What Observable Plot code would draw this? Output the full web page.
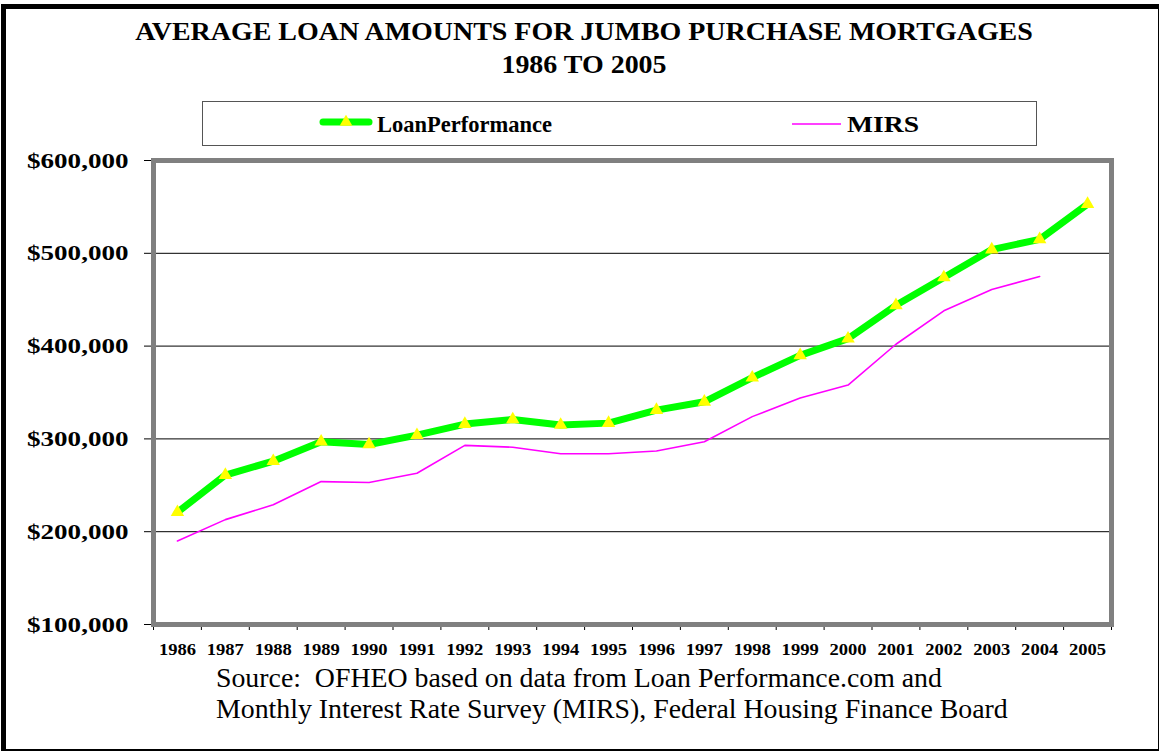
<!DOCTYPE html>
<html>
<head>
<meta charset="utf-8">
<script src="https://cdn.jsdelivr.net/npm/d3@7"></script>
<script src="https://cdn.jsdelivr.net/npm/@observablehq/plot@0.6"></script>
<style>
  html, body { margin: 0; padding: 0; background: #fff; }
  #wrap { position: relative; width: 1159px; height: 751px; overflow: hidden; font-family: "Liberation Serif", "Times New Roman", serif; }
  #border { position: absolute; left: 1px; top: 4px; width: 1162px; height: 750px; box-sizing: border-box; border: 5px solid #000; }
  #chart { position: absolute; left: 0; top: 0; }
  .title { position: absolute; left: 9px; width: 1150px; text-align: center; font-weight: bold; font-size: 26px; line-height: 1; color: #000; white-space: nowrap; transform: scaleX(1.075); transform-origin: 575px 0; }
  #legend { position: absolute; left: 202px; top: 101px; width: 835px; height: 45px; box-sizing: border-box; border: 1.5px solid #555; background: #fff; }
  .lg { position: absolute; font-weight: bold; white-space: nowrap; line-height: 1; transform-origin: 0 0; }
  .src { position: absolute; left: 216px; font-size: 27px; line-height: 1; white-space: nowrap; color: #000; transform: scaleX(1.03); transform-origin: 0 0; }
</style>
</head>
<body>
<div id="wrap">
  <div id="chart"></div>
  <div id="border"></div>
  <div class="title" style="top:19px;">AVERAGE LOAN AMOUNTS FOR JUMBO PURCHASE MORTGAGES</div>
  <div class="title" style="top:51.5px;">1986 TO 2005</div>
  <div id="legend"></div>
  <div class="src" style="top:664.5px;">Source:&nbsp; OFHEO based on data from Loan Performance.com and</div>
  <div class="src" style="top:695.5px;">Monthly Interest Rate Survey (MIRS), Federal Housing Finance Board</div>
</div>
<script>
const years = [1986,1987,1988,1989,1990,1991,1992,1993,1994,1995,1996,1997,1998,1999,2000,2001,2002,2003,2004,2005];
const loanPerformance = [221000,261000,276000,297000,294000,304000,316000,321000,315000,317000,331000,340000,366000,390000,408000,444000,474000,504000,515000,553000];
const mirs = [190000,213000,229000,254000,253000,263000,293000,291000,284000,284000,287000,297000,324000,344000,358000,402000,438000,461000,475000,null];
const yTicks = [100000,200000,300000,400000,500000,600000];
const seriesNames = ["LoanPerformance", "MIRS"];

const lpData = years.map((y, i) => ({year: y, value: loanPerformance[i]}));
const mirsData = years.map((y, i) => ({year: y, value: mirs[i]})).filter(d => d.value != null);
const boundaries = years.map(y => y - 0.5).concat([years[years.length - 1] + 0.5]);

const chart = Plot.plot({
  width: 1159,
  height: 751,
  marginLeft: 153,
  marginRight: 48,
  marginTop: 160,
  marginBottom: 127,
  style: {background: "transparent", fontFamily: "Liberation Serif, Times New Roman, serif", color: "#000"},
  x: {type: "linear", domain: [years[0] - 0.5, years[years.length - 1] + 0.5]},
  y: {domain: [100000, 600000]},
  marks: [
    Plot.ruleY(yTicks, {stroke: "#000", strokeWidth: 1}),
    Plot.axisY({ticks: yTicks, tickSize: 9, tickPadding: 16, fontSize: 22, fontWeight: "bold",
      tickFormat: d => "$" + d3.format(",")(d), label: null, stroke: "#000"}),
    Plot.axisX({ticks: boundaries, tickSize: 6, tickFormat: () => "", label: null}),
    Plot.axisX({ticks: years, tickSize: 0, tickPadding: 19.5, fontSize: 16, fontWeight: "bold",
      tickFormat: d => String(d), label: null}),
    Plot.line(mirsData, {x: "year", y: "value", stroke: "#ff00ff", strokeWidth: 1.6}),
    Plot.line(lpData, {x: "year", y: "value", stroke: "#00ff00", strokeWidth: 7}),
    Plot.dot(lpData, {x: "year", y: "value", symbol: "triangle", r: 5, fill: "#ffff00", stroke: "none"}),
    Plot.frame({stroke: "#808080", strokeWidth: 5})
  ]
});
document.getElementById("chart").appendChild(chart);

const ns = "http://www.w3.org/2000/svg";

// horizontally stretch axis tick labels (the reference type is wide), keeping their anchor point fixed
function stretch(label, sx, anchor) {
  const svgRect = chart.getBoundingClientRect();
  chart.querySelectorAll(`g[aria-label="${label}"] text`).forEach(t => {
    const r = t.getBoundingClientRect();
    if (!r.width) return;
    const parent = t.parentNode;
    const m = parent.getCTM();
    const px = anchor === "end" ? r.right : (r.left + r.right) / 2;
    const cx = (px - svgRect.left - (m ? m.e : 0)) / (m ? m.a : 1);
    const g = document.createElementNS(ns, "g");
    g.setAttribute("transform", `translate(${cx},0) scale(${sx},1) translate(${-cx},0)`);
    parent.insertBefore(g, t);
    g.appendChild(t);
  });
}
stretch("y-axis tick label", 1.23, "end");
stretch("x-axis tick label", 1.16, "middle");

// legend
const legend = document.getElementById("legend");
function sample(left, top, color, width, tri) {
  const s = document.createElementNS(ns, "svg");
  s.setAttribute("width", 54); s.setAttribute("height", 14);
  s.style.position = "absolute"; s.style.left = left + "px"; s.style.top = top + "px";
  const l = document.createElementNS(ns, "line");
  l.setAttribute("x1", tri ? 4 : 2); l.setAttribute("x2", tri ? 50 : 51); l.setAttribute("y1", 7); l.setAttribute("y2", 7);
  l.setAttribute("stroke", color); l.setAttribute("stroke-width", width); l.setAttribute("stroke-linecap", tri ? "round" : "butt");
  s.appendChild(l);
  if (tri) {
    const p = document.createElementNS(ns, "path");
    p.setAttribute("d", d3.symbol(d3.symbolTriangle, 70)());
    p.setAttribute("transform", "translate(27,7)");
    p.setAttribute("fill", "#ffff00");
    s.appendChild(p);
  }
  legend.appendChild(s);
}
sample(116, 12.5, "#00ff00", 7, true);
sample(587, 15, "#ff00ff", 1.6, false);
const t1 = document.createElement("div");
t1.className = "lg"; t1.textContent = seriesNames[0];
t1.style.left = "174px"; t1.style.top = "11.5px"; t1.style.fontSize = "22.5px";
legend.appendChild(t1);
const t2 = document.createElement("div");
t2.className = "lg"; t2.textContent = seriesNames[1];
t2.style.left = "644px"; t2.style.top = "9.5px"; t2.style.fontSize = "24px"; t2.style.transform = "scaleX(1.15)";
legend.appendChild(t2);
</script>
</body>
</html>
